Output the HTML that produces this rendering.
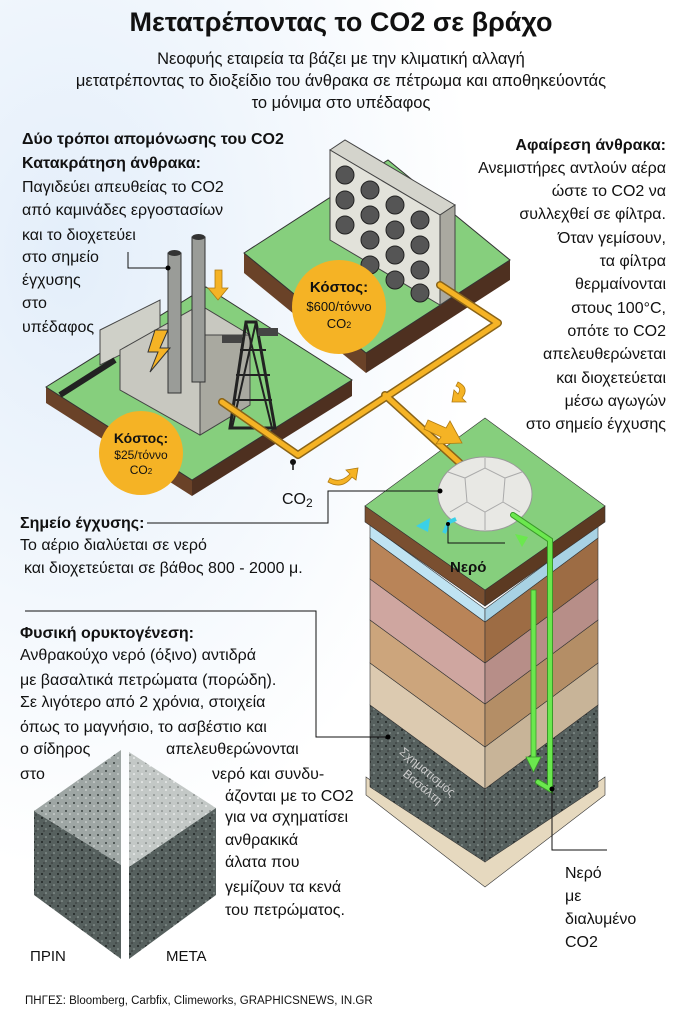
<!DOCTYPE html>
<html><head><meta charset="utf-8"><style>
html,body{margin:0;padding:0;background:#fff}
svg{display:block}
text{font-family:"Liberation Sans Narrow","Liberation Sans",sans-serif;fill:#111}
.t{font-size:16px}
.b{font-weight:bold}
</style></head><body>
<svg width="682" height="1024" viewBox="0 0 682 1024" xmlns="http://www.w3.org/2000/svg">
<defs>
<radialGradient id="bg" cx="0.1" cy="0.25" r="0.6"><stop offset="0" stop-color="#e3eefa"/><stop offset="1" stop-color="#fff"/></radialGradient>
<pattern id="sp" width="8" height="8" patternUnits="userSpaceOnUse"><rect width="8" height="8" fill="#56605e"/><circle cx="2" cy="2" r="1" fill="#1e2422"/><circle cx="6" cy="5" r="0.8" fill="#9aa5a2"/><circle cx="4" cy="7" r="0.6" fill="#222"/></pattern>
<pattern id="sp2" width="8" height="8" patternUnits="userSpaceOnUse"><rect width="8" height="8" fill="#9ea6a4"/><circle cx="2" cy="3" r="1" fill="#3a4240"/><circle cx="6" cy="6" r="0.8" fill="#e0e4e2"/></pattern>
<pattern id="sp3" width="8" height="8" patternUnits="userSpaceOnUse"><rect width="8" height="8" fill="#c3c8c6"/><circle cx="2" cy="3" r="0.8" fill="#6a706e"/><circle cx="6" cy="6" r="0.8" fill="#fff"/></pattern>
</defs>
<rect width="682" height="1024" fill="url(#bg)"/>

<text x="341" y="31" text-anchor="middle" class="b" font-size="27">Μετατρέποντας το CO2 σε βράχο</text>
<text x="341" y="64" text-anchor="middle" font-size="16.5">Νεοφυής εταιρεία τα βάζει με την κλιματική αλλαγή</text>
<text x="341" y="86" text-anchor="middle" font-size="16.5">μετατρέποντας το διοξείδιο του άνθρακα σε πέτρωμα και αποθηκεύοντάς</text>
<text x="341" y="108" text-anchor="middle" font-size="16.5">το μόνιμα στο υπέδαφος</text>

<!-- Fan tile -->
<polygon points="244,253 366,353 366,373 244,273" fill="#6a4228"/>
<polygon points="366,353 510,260 510,280 366,373" fill="#4e3020"/>
<polygon points="244,253 388,160 510,260 366,353" fill="#86cf7d" stroke="#333" stroke-width="1"/>
<polygon points="330,150 345,140 455,205 440,215" fill="#d4d4cc" stroke="#444" stroke-width="1"/>
<polygon points="440,215 455,205 455,295 440,305" fill="#aaa9a0" stroke="#444" stroke-width="1"/>
<polygon points="330,150 440,215 440,305 330,240" fill="#e2e2da" stroke="#444" stroke-width="1"/>
<g fill="#555" stroke="#222" stroke-width="1">
<circle cx="345" cy="175" r="9"/><circle cx="370" cy="190" r="9"/><circle cx="395" cy="205" r="9"/><circle cx="420" cy="220" r="9"/>
<circle cx="345" cy="200" r="9"/><circle cx="370" cy="215" r="9"/><circle cx="395" cy="230" r="9"/><circle cx="420" cy="245" r="9"/>
<circle cx="345" cy="225" r="9"/><circle cx="370" cy="240" r="9"/><circle cx="395" cy="255" r="9"/><circle cx="420" cy="270" r="9"/>
<circle cx="370" cy="265" r="9"/><circle cx="395" cy="280" r="9"/><circle cx="420" cy="293" r="9"/>
</g>

<!-- Factory tile -->
<polygon points="46,387 192,480 192,496 46,403" fill="#6a4228"/>
<polygon points="192,480 352,380 352,396 192,496" fill="#4e3020"/>
<polygon points="46,387 206,287 352,380 192,480" fill="#86cf7d" stroke="#333" stroke-width="1"/>
<polygon points="100,330 160,300 160,335 100,365" fill="#cfd0c8" stroke="#444"/>
<polygon points="120,350 200,305 250,335 250,405 200,435 120,390" fill="#c8c8c0" stroke="#444"/>
<polygon points="200,335 250,335 250,405 200,435" fill="#a9a9a0" stroke="#444"/>
<line x1="60" y1="395" x2="115" y2="360" stroke="#222" stroke-width="6"/>
<rect x="168" y="253" width="13" height="140" fill="#9a9c98" stroke="#333"/>
<ellipse cx="174.5" cy="253" rx="6.5" ry="3" fill="#333"/>
<rect x="192" y="237" width="13" height="145" fill="#9a9c98" stroke="#333"/>
<ellipse cx="198.5" cy="237" rx="6.5" ry="3" fill="#333"/>
<polygon points="155,330 168,330 160,348 170,348 150,372 158,352 148,352" fill="#f5b325" stroke="#333"/>
<polygon points="246,322 256,322 275,428 230,428" fill="none" stroke="#222" stroke-width="3"/>
<path d="M240,350 L266,350 M236,375 L270,375 M233,400 L272,400 M246,322 L272,428 M256,322 L232,428" stroke="#222" stroke-width="2"/>
<rect x="222" y="335" width="20" height="8" fill="#444"/><rect x="258" y="328" width="20" height="8" fill="#444"/>

<!-- Column layers -->
<g stroke="#333" stroke-width="0.6">
<polygon points="366,777 485,861 605,777 605,795 485,887 366,795" fill="#e6d9bf"/>
<polygon points="370,705 485,789 485,862 370,787" fill="url(#sp)"/>
<polygon points="485,789 598,705 598,787 485,862" fill="url(#sp)"/>
<polygon points="370,663 485,747 485,789 370,705" fill="#dccab0"/>
<polygon points="485,747 598,663 598,705 485,789" fill="#c8b498"/>
<polygon points="370,620 485,704 485,747 370,663" fill="#cca57c"/>
<polygon points="485,704 598,620 598,663 485,747" fill="#b48e66"/>
<polygon points="370,579 485,663 485,704 370,620" fill="#cfa6a0"/>
<polygon points="485,663 598,579 598,620 485,704" fill="#b78e88"/>
<polygon points="370,538 485,622 485,663 370,579" fill="#b98458"/>
<polygon points="485,622 598,538 598,579 485,663" fill="#9d6c44"/>
<polygon points="370,525 485,609 485,622 370,538" fill="#bfe3f2"/>
<polygon points="485,609 598,525 598,538 485,622" fill="#a8d2e4"/>
<polygon points="365,506 485,590 485,606 365,522" fill="#7a4f30"/>
<polygon points="485,590 605,506 605,522 485,606" fill="#5c3a22"/>
<polygon points="365,506 485,418 605,506 485,590" fill="#86cf7d"/>
</g>
<text font-size="12" style="fill:#ccc" transform="translate(425,775) rotate(40)" text-anchor="middle">Σχηματισμός</text>
<text font-size="12" style="fill:#ccc" transform="translate(420,790) rotate(40)" text-anchor="middle">Βασάλτη</text>

<!-- Pipes -->
<g fill="none" stroke-linecap="round" stroke-linejoin="round">
<path d="M222,402 L298,455 L498,323 L440,285 M385,395 L462,465" stroke="#8a6418" stroke-width="8"/>
<path d="M222,402 L298,455 L498,323 L440,285 M385,395 L462,465" stroke="#f5b325" stroke-width="5"/>
</g>
<line x1="293" y1="462" x2="293" y2="470" stroke="#111" stroke-width="1.5"/><circle cx="293" cy="462" r="3" fill="#111"/>
<g fill="#f5b325" stroke="#b07a10" stroke-width="0.8">
<polygon points="215,270 222,270 222,288 228,288 218,300 208,288 215,288"/>
<path d="M458,382 Q470,388 462,398 L466,402 L452,402 L454,390 L458,394 Q462,388 456,386 Z"/>
<path d="M330,478 Q340,484 350,474 L346,470 L358,468 L356,480 L352,477 Q342,490 328,482 Z"/>
<polygon points="428,420 446,428 450,421 462,443 436,444 441,437 424,429"/>
</g>
<!-- dome -->
<ellipse cx="485" cy="494" rx="47" ry="37" fill="#e8e8e4" stroke="#999"/>
<path d="M465,478 L485,468 L505,478 L503,502 L485,512 L467,502 Z M485,468 L485,458 M505,478 L522,472 M503,502 L520,512 M467,502 L450,512 M465,478 L448,472 M485,512 L485,530" fill="none" stroke="#aaa"/>
<!-- water pipes -->
<path d="M513,515 L550,540 L550,789 L538,782" fill="none" stroke="#3a9a2a" stroke-width="6" stroke-linecap="round"/>
<path d="M513,515 L550,540 L550,789 L538,782" fill="none" stroke="#6be84e" stroke-width="4" stroke-linecap="round"/>
<rect x="531" y="590" width="5" height="168" fill="#6be84e" stroke="#3a9a2a" stroke-width="0.8"/>
<polygon points="526,757 541,757 533.5,772" fill="#6be84e" stroke="#3a9a2a" stroke-width="0.8"/>
<polygon points="515,534 528,537 522,547" fill="#6be84e"/>
<path d="M444,533 L449,522 L456,519" fill="none" stroke="#3ad0e8" stroke-width="4"/>
<polygon points="416,526 430,518 428,532" fill="#3ad0e8"/>
<polyline points="448,524 448,543 505,543" fill="none" stroke="#111"/><circle cx="448" cy="524" r="2"/>
<text x="450" y="572" class="b" font-size="15">Νερό</text>

<!-- Cost circles -->
<circle cx="141" cy="453" r="42" fill="#f5b325"/>
<text x="141" y="443" text-anchor="middle" class="b" font-size="14">Κόστος:</text>
<text x="141" y="459" text-anchor="middle" font-size="12">$25/τόννο</text>
<text x="141" y="474" text-anchor="middle" font-size="12">CO<tspan font-size="8">2</tspan></text>
<circle cx="339" cy="307" r="47" fill="#f5b325"/>
<text x="339" y="292" text-anchor="middle" class="b" font-size="15">Κόστος:</text>
<text x="339" y="311" text-anchor="middle" font-size="13">$600/τόννο</text>
<text x="339" y="328" text-anchor="middle" font-size="13">CO<tspan font-size="9">2</tspan></text>

<!-- Leader lines -->
<g stroke="#111" stroke-width="1" fill="none">
<polyline points="147,523 328,523 328,491 440,491"/>
<polyline points="25,611 316,611 316,737 388,737"/>
<polyline points="552,789 552,850 607,850"/>
<polyline points="128,252 128,268 168,268"/>
</g>
<circle cx="440" cy="491" r="2.5"/><circle cx="388" cy="737" r="2.5"/><circle cx="552" cy="789" r="2.5"/><circle cx="168" cy="268" r="2.5"/>
<text x="282" y="504" class="t">CO<tspan font-size="12" dy="3">2</tspan></text>

<text x="22" y="144" class="b t">Δύο τρόποι απομόνωσης του CO2</text>
<text x="22" y="168" class="b t">Κατακράτηση άνθρακα:</text>
<g class="t">
<text x="22" y="192">Παγιδεύει απευθείας το CO2</text>
<text x="22" y="215">από καμινάδες εργοστασίων</text>
<text x="22" y="240">και το διοχετεύει</text>
<text x="22" y="262">στο σημείο</text>
<text x="22" y="285">έγχυσης</text>
<text x="22" y="308">στο</text>
<text x="22" y="332">υπέδαφος</text>
</g>
<g class="t" text-anchor="end">
<text x="666" y="150" class="b">Αφαίρεση άνθρακα:</text>
<text x="666" y="173">Ανεμιστήρες αντλούν αέρα</text>
<text x="666" y="196">ώστε το CO2 να</text>
<text x="666" y="219">συλλεχθεί σε φίλτρα.</text>
<text x="666" y="243">Όταν γεμίσουν,</text>
<text x="666" y="266">τα φίλτρα</text>
<text x="666" y="289">θερμαίνονται</text>
<text x="666" y="313">στους 100°C,</text>
<text x="666" y="336">οπότε το CO2</text>
<text x="666" y="359">απελευθερώνεται</text>
<text x="666" y="383">και διοχετεύεται</text>
<text x="666" y="406">μέσω αγωγών</text>
<text x="666" y="429">στο σημείο έγχυσης</text>
</g>

<text x="20" y="528" class="b t">Σημείο έγχυσης:</text>
<text x="20" y="550" class="t">Το αέριο διαλύεται σε νερό</text>
<text x="24" y="573" class="t">και διοχετεύεται σε βάθος 800 - 2000 μ.</text>

<g class="t">
<text x="20" y="638" class="b">Φυσική ορυκτογένεση:</text>
<text x="20" y="660">Ανθρακούχο νερό (όξινο) αντιδρά</text>
<text x="20" y="685">με βασαλτικά πετρώματα (πορώδη).</text>
<text x="20" y="707">Σε λιγότερο από 2 χρόνια, στοιχεία</text>
<text x="20" y="732">όπως το μαγνήσιο, το ασβέστιο και</text>
<text x="20" y="754">ο σίδηρος</text><text x="166" y="754">απελευθερώνονται</text>
<text x="20" y="779">στο</text><text x="212" y="779">νερό και συνδυ-</text>
<text x="225" y="801">άζονται με το CO2</text>
<text x="225" y="822">για να σχηματίσει</text>
<text x="225" y="845">ανθρακικά</text>
<text x="225" y="867">άλατα που</text>
<text x="225" y="892">γεμίζουν τα κενά</text>
<text x="225" y="915">του πετρώματος.</text>
</g>
<polygon points="34,811 121,750 121,865" fill="url(#sp2)"/>
<polygon points="34,811 121,865 121,959 34,895" fill="url(#sp)"/>
<polygon points="129,752 216,808 129,867" fill="url(#sp3)"/>
<polygon points="129,867 216,808 216,895 129,959" fill="url(#sp)"/>
<text x="30" y="961" font-size="15">ΠΡΙΝ</text>
<text x="166" y="961" font-size="15">ΜΕΤΑ</text>

<g class="t"><text x="565" y="878">Νερό</text><text x="565" y="901">με</text><text x="565" y="924">διαλυμένο</text><text x="565" y="947">CO2</text></g>

<text x="25" y="1004" font-size="11.5">ΠΗΓΕΣ: Bloomberg, Carbfix, Climeworks, GRAPHICSNEWS, IN.GR</text>
</svg>
</body></html>
